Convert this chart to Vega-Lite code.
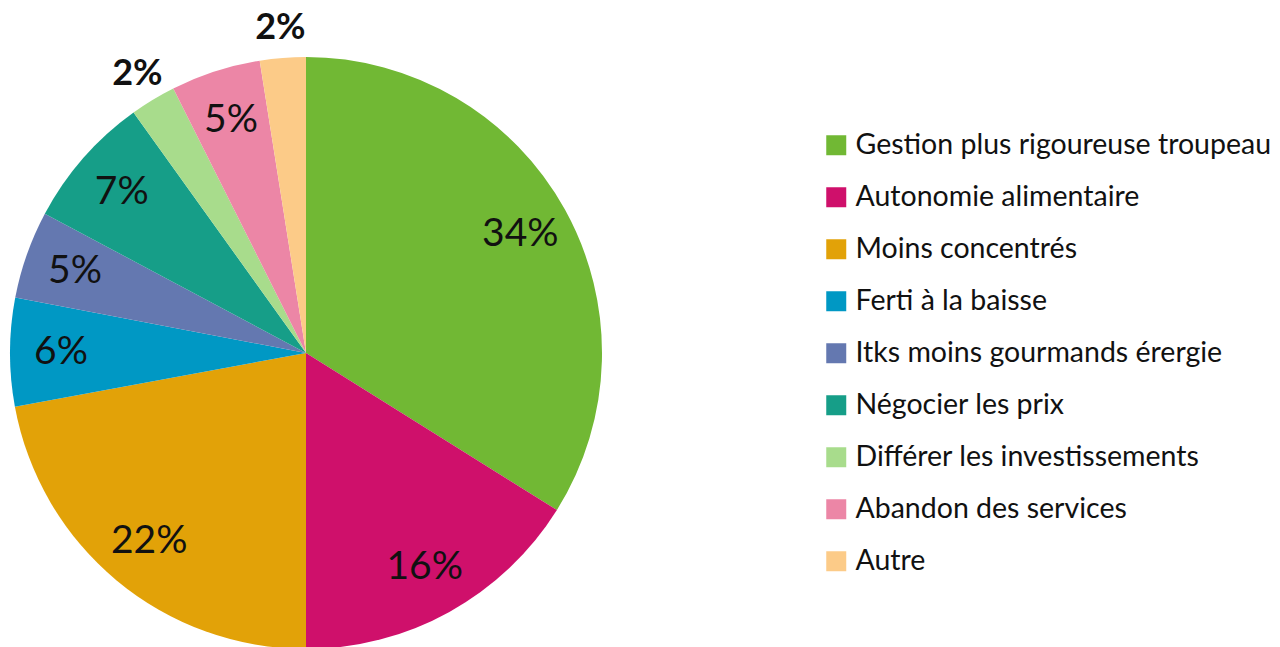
{
  "$schema": "https://vega.github.io/schema/vega-lite/v6.json",
  "width": 612,
  "height": 706,
  "padding": {"left": 0, "top": 0, "right": 668, "bottom": 0},
  "autosize": {"type": "none"},
  "background": "white",
  "config": {"view": {"stroke": null}},
  "data": {
    "values": [
      {"idx": 1, "category": "Gestion plus rigoureuse troupeau", "value": 33.9, "label": "34%"},
      {"idx": 2, "category": "Autonomie alimentaire", "value": 16.1, "label": "16%"},
      {"idx": 3, "category": "Moins concentrés", "value": 22.1, "label": "22%"},
      {"idx": 4, "category": "Ferti à la baisse", "value": 5.9, "label": "6%"},
      {"idx": 5, "category": "Itks moins gourmands érergie", "value": 4.8, "label": "5%"},
      {"idx": 6, "category": "Négocier les prix", "value": 7.3, "label": "7%"},
      {"idx": 7, "category": "Différer les investissements", "value": 2.5, "label": "2%"},
      {"idx": 8, "category": "Abandon des services", "value": 4.9, "label": "5%"},
      {"idx": 9, "category": "Autre", "value": 2.5, "label": "2%"}
    ]
  },
  "encoding": {
    "theta": {"field": "value", "type": "quantitative", "stack": true},
    "order": {"field": "idx", "type": "quantitative"}
  },
  "layer": [
    {
      "mark": {"type": "arc", "radius": 296, "strokeWidth": 0},
      "encoding": {
        "color": {
          "field": "category",
          "type": "nominal",
          "sort": {"field": "idx"},
          "scale": {
            "domain": ["Gestion plus rigoureuse troupeau", "Autonomie alimentaire", "Moins concentrés", "Ferti à la baisse", "Itks moins gourmands érergie", "Négocier les prix", "Différer les investissements", "Abandon des services", "Autre"],
            "range": ["#71B834", "#CF106B", "#E2A208", "#0098C4", "#6478B0", "#169E88", "#A8DC8C", "#EC86A6", "#FCCB88"]
          },
          "legend": {
            "title": null,
            "orient": "none",
            "legendX": 822,
            "legendY": 131,
            "padding": 0,
            "symbolType": "square",
            "symbolSize": 400,
            "symbolStrokeWidth": 0,
            "symbolOpacity": 1,
            "labelFont": "Lato",
            "labelFontSize": 28.5,
            "labelColor": "#111111",
            "labelOffset": 5,
            "labelLimit": 0,
            "rowPadding": 23
          }
        }
      }
    },
    {
      "mark": {"type": "text", "radius": 245, "font": "Lato", "fontSize": 39, "color": "#111111", "align": "center", "baseline": "middle"},
      "encoding": {
        "text": {"condition": {"test": "datum.value >= 4", "field": "label"}, "value": ""}
      }
    },
    {
      "mark": {"type": "text", "radius": 326, "font": "Lato", "fontSize": 36, "fontWeight": "bold", "color": "#111111", "align": "center", "baseline": "middle"},
      "encoding": {
        "text": {"condition": {"test": "datum.value < 4", "field": "label"}, "value": ""}
      }
    }
  ]
}
